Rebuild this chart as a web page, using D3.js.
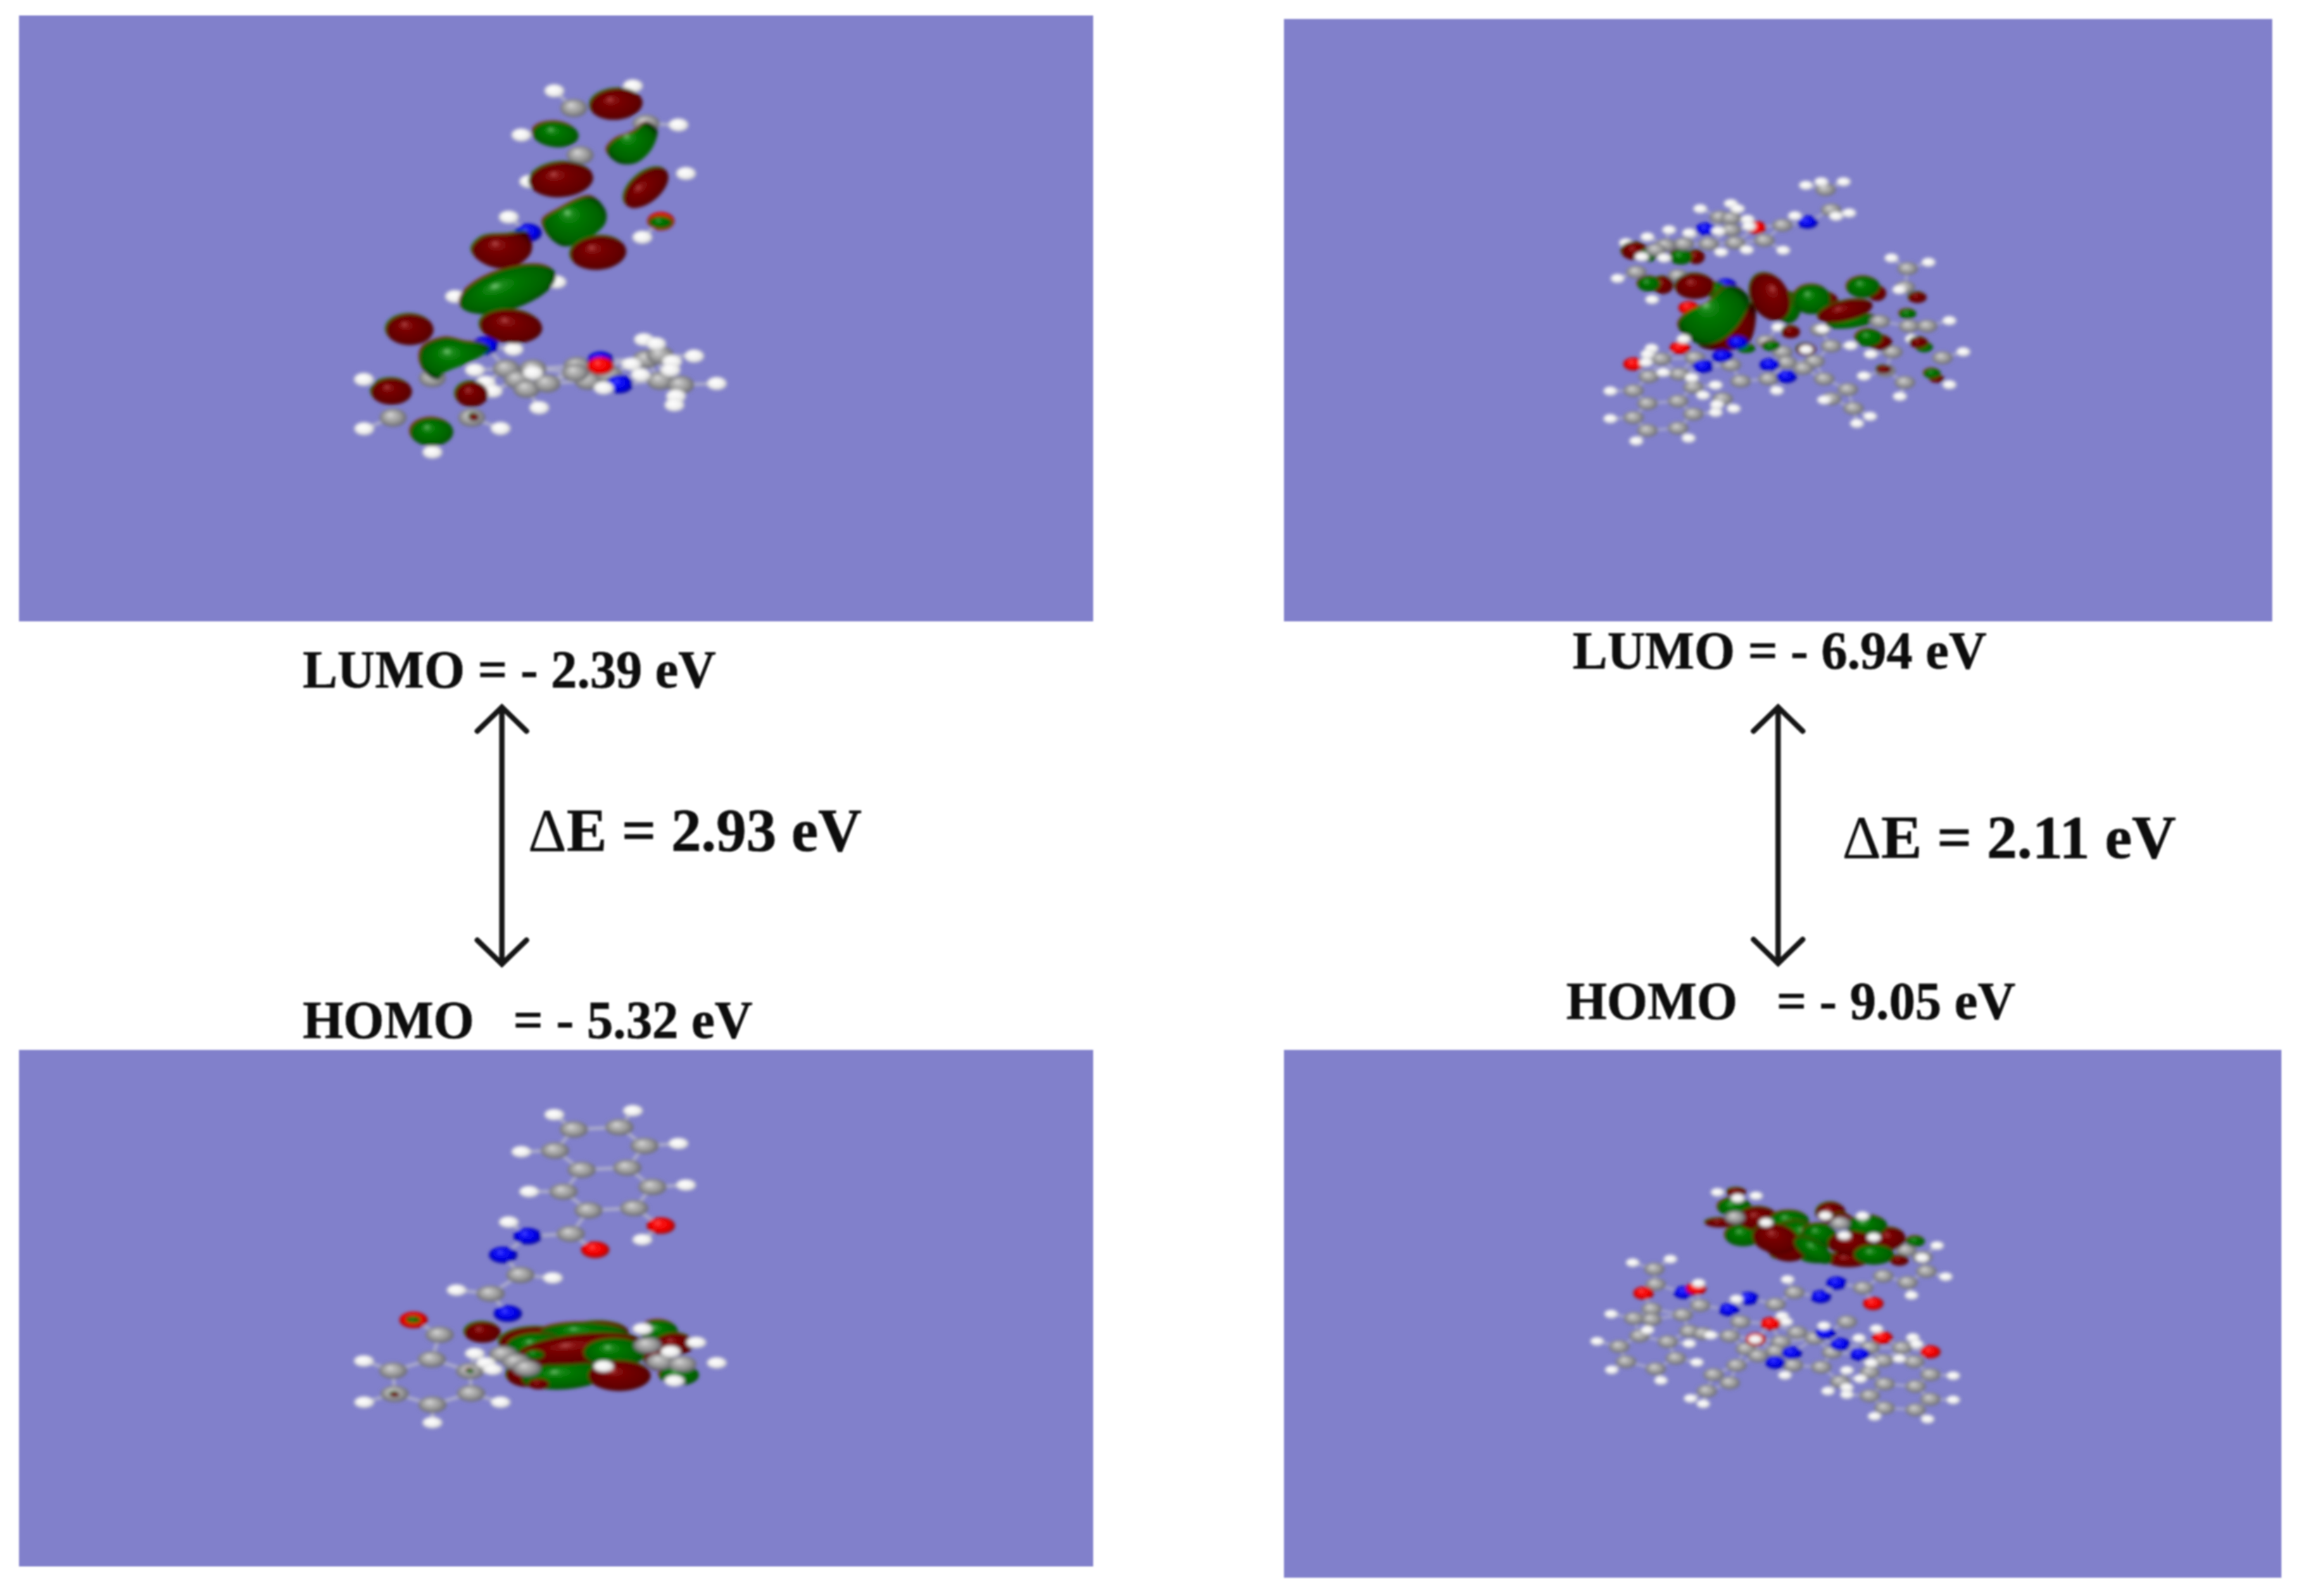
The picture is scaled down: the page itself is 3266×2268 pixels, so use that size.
<!DOCTYPE html>
<html><head><meta charset="utf-8">
<style>html,body{margin:0;padding:0;background:#fff}svg{display:block}text{font-family:"Liberation Serif",serif;font-weight:bold;fill:#0a0a0a;white-space:pre;stroke:#0a0a0a;stroke-width:.7px}</style>
<script src="https://cdn.jsdelivr.net/npm/d3@7"></script>
</head><body><svg id="c" width="3266" height="2268"></svg>
<script>
// ---------- values ----------
const lumoValues=["- 2.39","- 6.94"];
const homoValues=["- 5.32","- 9.05"];
const gapValues=["2.93","2.11"];

// atom positions in each molecule's own view units
const tlCarbon=[[930,192],[950,367],[1160,250],[480,1195],[355,1342],[605,1342],[715,1160],[750,1200],[800,1160],[780,1235],[845,1215],[940,1150],[975,1205],[1040,1180],[1160,1125],[1205,1110],[1205,1205],[1270,1220],[935,1175]];
const tlNitrogen=[[785,655],[648,1075],[1075,1218],[1015,1130]];
const tlOxygen=[[1015,1150],[1207,612]];
const tlHydrogen=[[868,128],[1118,110],[763,292],[1263,255],[788,465],[1287,435],[723,597],[1148,672],[875,838],[552,892],[262,1200],[263,1383],[697,1382],[480,1470],[738,1088],[615,1165],[650,1210],[672,1243],[820,1305],[800,1175],[1025,1232],[1153,1052],[1192,1067],[1313,1113],[1113,1143],[1243,1133],[1238,1165],[1143,1183],[1385,1215],[1255,1262],[1250,1295]];
const tlLobes=[
["r",1065,178,80,55,-5],["g",872,290,70,45,5],["g",[[1160,245],[1195,270],[1180,340],[1130,395],[1070,395],[1035,350],[1060,310],[1120,280]]],
["r",890,458,97,62,-5],["r",1160,488,80,52,-40],["g",1207,617,35,22,0],["g",[[985,520],[1030,570],[1030,620],[970,680],[895,705],[845,660],[832,610],[880,570]]],
["r",1008,730,85,60,-5],["r",[[785,655],[795,725],[750,775],[680,785],[620,750],[605,715],[640,670],[720,660]]],
["g",720,865,152,72,-18],["r",730,1003,95,60,5],["r",408,1015,72,55,0],["g",[[520,1045],[590,1060],[640,1065],[665,1085],[600,1135],[520,1175],[500,1200],[470,1190],[440,1130],[450,1080]]],
["r",350,1245,62,47,0],["r",605,1255,50,45,0],["g",478,1395,65,50,0],["r",612,1340,15,13,0]];
const tlFront=[];

const blCarbon=[[930,225],[1075,215],[870,315],[1155,295],[955,397],[1100,388],[897,490],[1180,470],[977,570],[1122,560],[920,670],[760,845],[665,925],[503,1100],[478,1205],[355,1253],[600,1255],[360,1352],[603,1350],[480,1398]];
const blNitrogen=[[783,680],[705,760],[720,1010]];
const blOxygen=[[1207,635],[998,738],[420,1037]];
const blHydrogen=[[868,162],[1118,145],[763,320],[1263,285],[788,490],[1287,462],[723,620],[1148,695],[863,858],[557,910],[262,1212],[263,1388],[697,1388],[480,1475]];
const blLobes=[
["g",420,1037,22,14,0],["g",600,1255,12,9,0],["r",360,1355,14,10,0],["r",640,1090,55,42,0],
["r",1010,1090,90,45,0],["r",810,1135,112,65,0],["g",960,1090,130,40,0],["g",810,1150,90,55,0],["r",780,1270,62,50,0],
["g",900,1275,130,55,-4],["r",950,1160,190,60,-6],["g",805,1185,30,20,0],["g",1060,1175,95,60,0],["r",818,1310,32,22,0],["r",1075,1275,95,62,0],
["g",1200,1085,58,45,0],["r",1195,1200,40,50,0],["r",1250,1140,60,45,0],["g",1265,1272,60,42,0]];
const blFront=[["C",705,1183],["C",745,1215],["C",780,1243],["C",1165,1145],["C",1205,1215],["C",1275,1225],["H",615,1180],["H",650,1220],["H",672,1248],["H",1025,1235],["H",1238,1172],["H",1320,1133],["H",1385,1220],["H",1250,1297],["H",1148,1075]];

const trCarbon=[[995,118],[1015,205],[840,270],[775,335],[670,345],[655,290],[615,235],[655,240],[575,350],[485,350],[420,355],[385,375],[315,470],[465,485],[1290,455],[1280,535],[1190,680],[1295,700],[1360,700],[975,715],[1015,785],[780,765],[840,810],[855,855],[955,850],[915,880],[655,865],[525,835],[405,840],[360,915],[470,905],[520,960],[305,975],[355,1030],[465,1020],[520,1075],[305,1090],[355,1145],[465,1135],[625,1010],[690,935],[790,925],[990,925],[1075,970],[1015,1010],[1095,1050],[1235,810],[1415,835],[1280,940],[1210,890]];
const trNitrogen=[[930,257],[565,287],[637,525],[795,865],[855,915],[555,872]];
const trOxygen=[[745,280],[503,622],[472,793],[305,862]];
const trHydrogen=[[925,100],[980,85],[1060,85],[1080,218],[1033,232],[885,230],[843,377],[715,245],[720,275],[610,295],[545,200],[655,178],[680,200],[505,303],[433,290],[355,320],[278,345],[620,385],[712,375],[248,497],[372,587],[1232,410],[1365,428],[1260,545],[1440,677],[1490,810],[1440,950],[1262,1000],[1133,913],[1158,820],[1085,783],[825,705],[985,712],[370,795],[355,820],[350,855],[412,897],[515,920],[222,977],[600,952],[555,995],[222,1095],[315,1190],[503,1178],[665,1052],[600,1068],[605,1035],[820,975],[990,1015],[1155,1085],[1108,1115],[1305,755]];
const trLobes=[
["r",310,380,45,35,0],["g",360,395,28,28,0],["r",530,405,28,28,0],["g",475,405,38,30,0],["r",410,525,35,35,0],["g",360,520,38,30,0],
["g",800,785,30,20,0],["g",710,795,30,18,0],["g",600,545,40,30,0],
["r",[[735,600],[745,640],[720,770],[630,805],[540,780],[620,700]]],
["g",860,620,42,62,0],["r",525,530,65,50,0],["g",[[650,525],[720,580],[690,680],[620,760],[550,780],[480,730],[465,690],[500,640],[570,600]]],
["r",795,575,84,72,60],["r",1000,610,40,50,0],["g",945,585,62,58,0],["g",1090,680,85,25,-8],["r",1065,635,92,40,-13],["r",1180,560,30,30,0],["g",1130,533,55,42,0],
["r",1190,770,40,30,0],["g",1150,750,45,35,0],["g",1350,790,28,20,0],["r",1330,770,30,22,0],["r",1325,578,30,22,0],["g",1290,648,28,20,0],
["r",870,725,30,25,0],["r",925,800,32,24,0],["r",1205,885,25,17,0],["r",1395,925,25,15,0],["g",1378,902,28,20,0]];
const trFront=[["N",680,770],["N",625,828],["C",485,350],["C",420,355],["C",385,375],["H",335,405],["H",415,410],["H",925,800],["C",1190,680],["H",485,755]];

const brCarbon=[[340,430],[345,495],[330,600],[265,640],[330,645],[445,625],[510,585],[285,715],[390,740],[210,760],[470,695],[520,705],[620,715],[235,825],[345,855],[420,810],[660,655],[790,580],[860,530],[1115,510],[1190,460],[1280,487],[1350,440],[1335,380],[1275,350],[810,740],[870,700],[935,725],[790,780],[680,770],[725,800],[645,840],[560,880],[620,915],[535,950],[1000,785],[855,840],[960,848],[1030,910],[1140,765],[1260,765],[1190,820],[1305,825],[1140,870],[1365,880],[1195,920],[1310,930],[1140,970],[1365,985],[1195,1022],[1310,1030],[1055,655]];
const brNitrogen=[[450,530],[690,555],[617,603],[958,548],[1017,490],[975,703],[1030,752],[850,788],[790,828],[1103,793]];
const brOxygen=[[300,533],[495,513],[772,663],[717,730],[1153,577],[1187,723],[1365,783]];
const brHydrogen=[[260,403],[400,388],[505,490],[180,622],[315,690],[128,738],[182,860],[365,905],[470,748],[498,828],[550,712],[645,558],[835,475],[815,630],[830,655],[1295,542],[1422,463],[1390,330],[1335,383],[970,672],[1165,685],[1100,725],[1250,812],[1145,830],[1105,898],[1055,862],[825,883],[1300,722],[1315,750],[1450,885],[1450,988],[1355,1070],[1158,1058],[985,950],[1055,965],[1055,935],[475,982],[522,1005],[715,730]];
const brLobes=[
["g",800,370,25,15,0],["g",950,380,60,22,0],["r",1060,390,70,28,0],["r",1250,393,30,20,0],["g",1310,312,30,20,0],
["r",645,103,32,18,0],["r",585,232,50,18,0],["g",637,165,55,35,0],["g",670,285,60,42,0],["r",725,215,65,45,0],["g",840,225,65,40,0],
["g",900,290,85,50,20],["r",830,345,65,45,10],["r",790,300,75,55,10],["g",950,280,55,40,0],["g",930,350,70,35,30],
["r",995,190,48,40,0],["r",1035,220,35,25,0],["r",1215,300,50,42,0],["g",1130,245,65,40,0],["r",1070,320,75,45,0],["g",1155,368,65,38,0]];
const brFront=[["H",575,103],["H",718,118],["H",755,232],["H",975,203],["H",1113,203],["H",1045,287],["H",1155,295],["H",650,128],["C",640,210],["C",1030,235],["O",772,663],["O",717,730],["H",715,730]];

// ---------- layout ----------
const W=3266,H=2268;
const svg=d3.select("#c").attr("viewBox",[0,0,W,H]);
const defs=svg.append("defs");
const blur=(id,s)=>defs.append("filter").attr("id",id).attr("x","-5%").attr("y","-5%").attr("width","110%").attr("height","110%").append("feGaussianBlur").attr("stdDeviation",s);
blur("bm",2.8);blur("bt",1.3);blur("bp",1);
const grad=(id,st)=>{const g=defs.append("radialGradient").attr("id",id).attr("cx",.5).attr("cy",.5).attr("r",.56).attr("fx",.38).attr("fy",.32);
 st.forEach(([o,c])=>g.append("stop").attr("offset",o).attr("stop-color",c));};
grad("gC",[[0,"#ececec"],[.16,"#c4c4c4"],[.6,"#989898"],[1,"#5a5a62"]]);
grad("gH",[[0,"#ffffff"],[.55,"#f4f4f4"],[.85,"#d4d4d4"],[1,"#a0a0a8"]]);
grad("gN",[[0,"#7a7aff"],[.16,"#1818ff"],[.65,"#0000e4"],[1,"#00006e"]]);
grad("gO",[[0,"#ff8a8a"],[.16,"#ff1414"],[.65,"#ee0000"],[1,"#7a0000"]]);
grad("gr",[[0,"#c86060"],[.12,"#8c1414"],[.35,"#740000"],[.8,"#600000"],[1,"#300000"]]);
grad("gg",[[0,"#8cdc8c"],[.12,"#1c8c1c"],[.35,"#007400"],[.8,"#006000"],[1,"#003000"]]);
const rimColor={r:"#0a700a",g:"#800a0a"};

const views=[
 {name:"tl",frame:[27,22,1553,883],crop:[400,80,700,600],dom:[1568,1568],C:tlCarbon,N:tlNitrogen,O:tlOxygen,Hy:tlHydrogen,lobes:tlLobes,front:tlFront,rC:[43,34],rH:[32,25],bond:4.5,maxB:74,rim:1.6,ls:1.05},
 {name:"tr",frame:[1824,27,3228,883],crop:[2200,230,620,420],dom:[1568,1260],C:trCarbon,N:trNitrogen,O:trOxygen,Hy:trHydrogen,lobes:trLobes,front:trFront,rC:[37,28],rH:[26,20],bond:3,maxB:50,rim:1,ls:1.1},
 {name:"bl",frame:[27,1492,1553,2226],crop:[400,1530,700,520],dom:[1568,1560],C:blCarbon,N:blNitrogen,O:blOxygen,Hy:blHydrogen,lobes:blLobes,front:blFront,rC:[45,35],rH:[32,25],bond:4.5,maxB:74,rim:1.6,ls:1.05},
 {name:"br",frame:[1824,1492,3241,2242],crop:[2220,1660,600,380],dom:[1568,1140],C:brCarbon,N:brNitrogen,O:brOxygen,Hy:brHydrogen,lobes:brLobes,front:brFront,rC:[38,28],rH:[26,19],bond:3,maxB:50,rim:1,ls:1.15}
];
const lineGen=d3.line();
const blob=d3.line().curve(d3.curveCatmullRomClosed.alpha(.5));

views.forEach(v=>{
 const [fx0,fy0,fx1,fy1]=v.frame,[cx,cy,cw,ch]=v.crop;
 const x=d3.scaleLinear().domain([0,v.dom[0]]).range([cx,cx+cw]);
 const y=d3.scaleLinear().domain([0,v.dom[1]]).range([cy,cy+ch]);
 const kx=d=>Math.abs(x(d)-x(0)),ky=d=>Math.abs(y(d)-y(0));
 svg.append("rect").attr("x",fx0).attr("y",fy0).attr("width",fx1-fx0).attr("height",fy1-fy0).attr("fill","#8180cb").attr("filter","url(#bp)");
 const g=svg.append("g").attr("filter","url(#bm)");

 const heavy=[...v.C,...v.N,...v.O].map(([a,b])=>[x(a),y(b)]);
 const metric=(p,q)=>Math.hypot(p[0]-q[0],(p[1]-q[1])*1.8);
 const bonds=[];
 heavy.forEach((p,i)=>heavy.forEach((q,j)=>{if(j>i&&metric(p,q)<v.maxB)bonds.push([p,q]);}));
 const allH=[...v.Hy,...v.front.filter(d=>d[0]==="H").map(d=>[d[1],d[2]])];
 allH.forEach(([a,b])=>{const h=[x(a),y(b)];const n=d3.least(heavy,q=>metric(h,q));if(n&&metric(h,n)<v.maxB*1.05)bonds.push([h,n]);});
 g.append("g").selectAll("path").data(bonds).join("path").attr("d",d=>lineGen(d)).attr("stroke","#b0b0cc").attr("stroke-width",v.bond).attr("fill","none");

 const atom=(sel,rows,kind)=>{const r=kind==="H"?v.rH:v.rC;
  sel.append("g").selectAll("ellipse").data(rows).join("ellipse").attr("cx",d=>x(d[0])).attr("cy",d=>y(d[1])).attr("rx",kx(r[0])).attr("ry",ky(r[1])).attr("fill",`url(#g${kind})`);};
 atom(g,v.C,"C");atom(g,v.N,"N");atom(g,v.O,"O");atom(g,v.Hy,"H");

 const lobeG=g.append("g");
 v.lobes.forEach(l=>{
  const p=l[0];
  const draw=(fill,dx,dy)=>{
   if(Array.isArray(l[1])){lobeG.append("path").attr("d",blob(l[1].map(([a,b])=>[x(a),y(b)]))).attr("transform",`translate(${dx},${dy})`).attr("fill",fill);}
   else{const px=x(l[1]),py=y(l[2]);lobeG.append("ellipse").attr("cx",0).attr("cy",0).attr("rx",kx(l[3])*v.ls).attr("ry",ky(l[4])*v.ls).attr("transform",`translate(${px+dx},${py+dy}) rotate(${l[5]})`).attr("fill",fill);}
  };
  draw(rimColor[p],-v.rim,-v.rim);draw(`url(#g${p})`,0,0);
 });
 v.front.forEach(f=>{const kind=f[0];atom(g,[[f[1],f[2]]],kind);});
});

// labels
const texts=[
 {t:`LUMO = ${lumoValues[0]} eV`,x0:430,x1:1017,y:977,fs:77},
 {t:`HOMO   = ${homoValues[0]} eV`,x0:430,x1:1069,y:1475,fs:77},
 {t:`LUMO = ${lumoValues[1]} eV`,x0:2234,x1:2822,y:950,fs:77},
 {t:`HOMO   = ${homoValues[1]} eV`,x0:2225,x1:2863,y:1448,fs:77}
];
const tg=svg.append("g").attr("filter","url(#bt)");
texts.forEach(d=>tg.append("text").attr("x",d.x0).attr("y",d.y).attr("font-size",d.fs).attr("textLength",d.x1-d.x0).attr("lengthAdjust","spacingAndGlyphs").text(d.t));
[{v:gapValues[0],x0:750,x1:1224,y:1209},{v:gapValues[1],x0:2617,x1:3091,y:1219}].forEach(d=>{
 const t=tg.append("text").attr("x",d.x0).attr("y",d.y).attr("font-size",86).attr("textLength",d.x1-d.x0).attr("lengthAdjust","spacingAndGlyphs");
 t.append("tspan").style("font-weight","normal").style("stroke","none").text("\u0394");
 t.append("tspan").text(`E = ${d.v} eV`);
});
// arrows
[[713,1005,1370],[2526,1005,1369]].forEach(([ax,a0,a1])=>{
 tg.append("path").attr("fill","none").attr("stroke","#141414").attr("stroke-width",7.5).attr("stroke-linecap","round").attr("stroke-linejoin","miter")
  .attr("d",lineGen([[ax,a0],[ax,a1]])+lineGen([[ax-35,a0+34],[ax,a0],[ax+35,a0+34]])+lineGen([[ax-35,a1-34],[ax,a1],[ax+35,a1-34]]));
});
</script></body></html>
